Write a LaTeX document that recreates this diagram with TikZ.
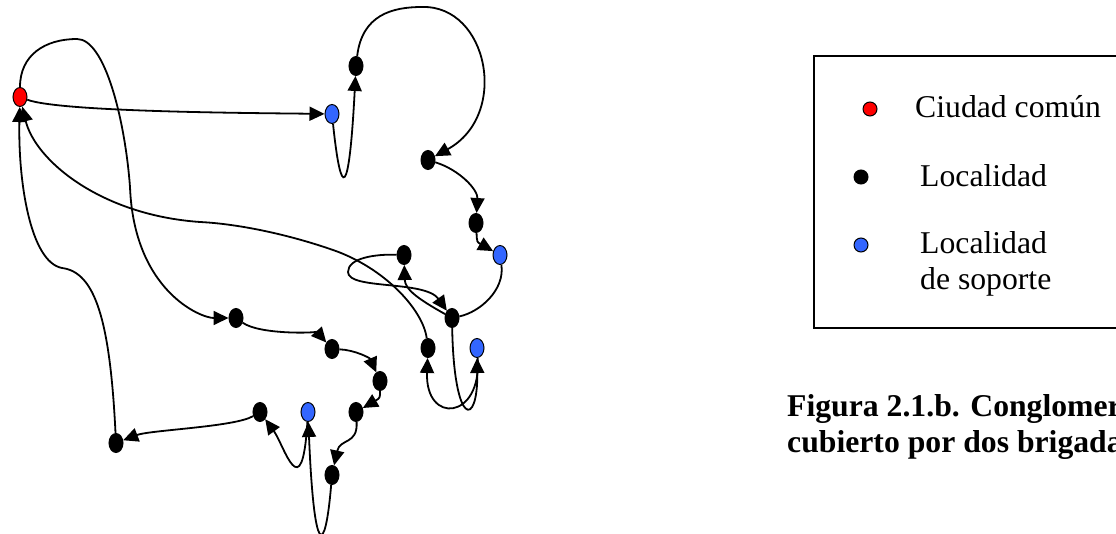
\documentclass[tikz,border=0pt]{standalone}
\usepackage{fontspec}
\setmainfont{Liberation Serif}
\usetikzlibrary{arrows.meta,shapes.geometric}
\definecolor{locblue}{RGB}{51,102,255}
\begin{document}
\begin{tikzpicture}[x=1pt,y=-1pt,
  pt/.style={ellipse,draw=black,line width=1pt,minimum width=14pt,minimum height=19pt,inner sep=0pt},
  city/.style={pt,fill=red},
  loc/.style={pt,fill=black},
  supp/.style={pt,fill=locblue},
  link/.style={line width=1.8pt},
  arr/.style={link,-{Triangle[length=15pt,width=14pt]}},
  lbl/.style={anchor=base west,inner sep=0pt,font=\fontsize{31.7}{36}\selectfont},
  captxt/.style={anchor=base west,inner sep=0pt,font=\fontsize{31.7}{36}\selectfont\bfseries},
  legdot/.style={circle,draw=black,line width=1pt,minimum size=14pt,inner sep=0pt}
]
\useasboundingbox (0,0) rectangle (1116,534);
\clip (0,0) rectangle (1116,534);

% nodes
\node[city] (R) at (20,97) {};
\node[supp] (B1) at (332,114) {};
\node[loc] (K1) at (356,66) {};
\node[loc] (K2) at (428,160) {};
\node[loc] (K3) at (476,223) {};
\node[supp] (B2) at (500,255) {};
\node[loc] (K4) at (404,255) {};
\node[loc] (K5) at (452,318) {};
\node[loc] (K6) at (428,348) {};
\node[supp] (B3) at (477,348) {};
\node[loc] (K7) at (236,318) {};
\node[loc] (K8) at (332,349) {};
\node[loc] (K9) at (380,381) {};
\node[loc] (K10) at (356,412) {};
\node[supp] (B4) at (308,412) {};
\node[loc] (K11) at (260,412) {};
\node[loc] (K12) at (332,475) {};
\node[loc] (K13) at (116,443) {};

% route 1
\draw[arr] (R) .. controls (60,112) and (250,113) .. (B1);
\draw[arr] (B1) .. controls (341,200) and (349,200) .. (K1);
\draw[arr] (K1) .. controls (362,15) and (392,7) .. (422,7)
  .. controls (488,5) and (510,115) .. (K2);
\draw[arr] (K2) .. controls (460,170) and (478,190) .. (K3);
\draw[arr] (K3) .. controls (477,242) .. (B2);
\draw[link] (B2) .. controls (505,290) and (480,312) .. (K5);
\draw[arr] (K5) .. controls (420,300) and (405,290) .. (K4);
\draw[arr] (K4) .. controls (375,254) and (348,258) .. (348,272)
  .. controls (348,290) and (425,280) .. (K5);
\draw[arr] (K5) .. controls (454,428) and (478,428) .. (B3);
\draw[arr] (B3) .. controls (482,420) and (425,425) .. (K6);
\draw[arr] (K6) .. controls (423,310) and (385,268) .. (333,250)
  .. controls (290,235) and (240,224) .. (200,222)
  .. controls (100,215) and (35,160) .. (R);

% route 2
\draw[arr] (R) .. controls (20,55) and (45,39) .. (77,39)
  .. controls (105,39) and (125,120) .. (130,187)
  .. controls (134,290) and (200,318) .. (K7);
\draw[arr] (K7) .. controls (260,335) and (318,333) .. (K8);
\draw[arr] (K8) .. controls (355,350) and (370,358) .. (K9);
\draw[arr] (K9) .. controls (380,398) .. (K10);
\draw[arr] (K10) .. controls (358,445) and (340,438) .. (K12);
\draw[arr] (K12) .. controls (325,558) and (314,558) .. (B4);
\draw[arr] (B4) .. controls (302,510) and (284,445) .. (K11);
\draw[arr] (K11) .. controls (235,427) and (150,430) .. (K13);
\draw[arr] (K13) .. controls (110,320) and (95,272) .. (62,268)
  .. controls (30,262) and (18,180) .. (R);

% legend
\draw[line width=1.3pt] (814,56) rectangle (1140,328);
\node[legdot,fill=red] (lr) at (870,109) {};
\node[legdot,fill=black] (lk) at (861,177) {};
\node[legdot,fill=locblue] (lb) at (861,245) {};
\node[lbl] (t1) at (915,118) {Ciudad común};
\node[lbl] (t2) at (920,187) {Localidad};
\node[lbl] (t3) at (920,254) {Localidad};
\node[lbl] (t4) at (920,290) {de soporte};

% caption (cut off at the right edge, as in the reference)
\node[captxt] (c1) at (787,416) {Figura 2.1.b. Conglomerado};
\node[captxt] (c2) at (787,452) {cubierto por dos brigadas};
\end{tikzpicture}
\end{document}
